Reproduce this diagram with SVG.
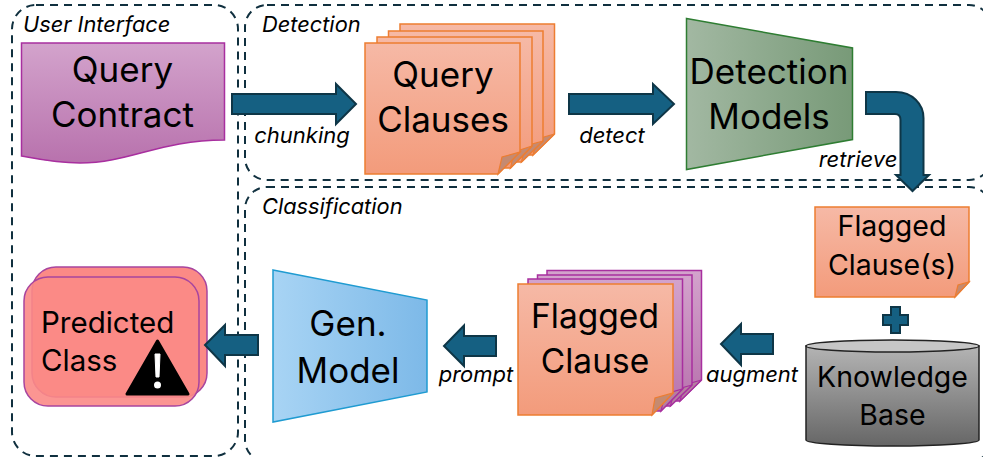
<svg xmlns="http://www.w3.org/2000/svg" width="983" height="457" viewBox="0 0 983 457">
<style>
text{font-family:"Inter","Noto Sans","Liberation Sans",sans-serif;fill:#000;text-anchor:middle}
.n{font-size:35px}
.n2{font-size:33.500px}
.m{font-size:28.500px}
.q{font-size:29.500px;text-anchor:start}
.l{font-size:22px;font-style:italic}
.s{font-size:21.800px;font-style:italic;text-anchor:start}
.c{fill:none;stroke:#10303f;stroke-width:2;stroke-dasharray:8 6}
.a{fill:#156082;stroke:#0e3647;stroke-width:2;stroke-linejoin:miter}
.o{fill:url(#or);stroke:#ed7d31;stroke-width:1.5}
.p{fill:url(#pu);stroke:#a82f9f;stroke-width:1.5}
.f{fill:#c58a70;stroke:#ed7d31;stroke-width:1.2}
.fp{fill:#b57fa0;stroke:#a82f9f;stroke-width:1.2}
.r{fill:#fb8a86;stroke:#a8459f;stroke-width:1.5}
</style>
<defs>
<linearGradient id="or" x1="0" y1="0" x2="0" y2="1"><stop offset="0" stop-color="#f6b9a6"/><stop offset="1" stop-color="#f39b7b"/></linearGradient>
<linearGradient id="pu" x1="0" y1="0" x2="0" y2="1"><stop offset="0" stop-color="#d3a3cc"/><stop offset="1" stop-color="#b872ad"/></linearGradient>
<linearGradient id="gr" x1="0" y1="0" x2="1" y2="0"><stop offset="0" stop-color="#a2b8a2"/><stop offset="1" stop-color="#789a78"/></linearGradient>
<linearGradient id="bl" x1="0" y1="0" x2="1" y2="0"><stop offset="0" stop-color="#a8d4f4"/><stop offset="1" stop-color="#7db9e8"/></linearGradient>
<linearGradient id="gy" x1="0" y1="0" x2="0" y2="1"><stop offset="0" stop-color="#b4b4b4"/><stop offset="1" stop-color="#666"/></linearGradient>
</defs>

<g id="containers">
<g id="user-interface"><rect class="c" x="12" y="5" width="226" height="451" rx="24"/><text class="s" x="23" y="32">User Interface</text></g>
<g id="detection"><rect class="c" x="245" y="5" width="746" height="175" rx="22"/><text class="s" x="262" y="32">Detection</text></g>
<g id="classification"><rect class="c" x="245" y="187" width="746" height="275" rx="22"/><text class="s" x="262" y="214">Classification</text></g>
</g>

<g id="query-contract">
<path d="M21.500 43H224.500V140C160 140 130 163 80 163C55 163 38 159 21.500 156Z" class="p"/>
<text class="n" x="122.500" y="82">Query</text><text class="n" x="122.500" y="127">Contract</text>
</g>

<g id="query-clauses">
<path class="o" d="M400 24H554.500V134L533 155H400Z"/><path class="f" d="M554.500 134L533 155L537 139Z"/>
<path class="o" d="M388.500 31H543V141L521.500 162H388.500Z"/><path class="f" d="M543 141L521.500 162L525 146Z"/>
<path class="o" d="M377 37H532V146L510.500 168H377Z"/><path class="f" d="M532 146L510.500 168L514 152Z"/>
<path class="o" d="M365 43H520V152L498 174H365Z"/><path class="f" d="M520 152L498 174L502 157Z"/>
<text class="n" x="443" y="87">Query</text><text class="n" x="443" y="132">Clauses</text>
</g>

<g id="detection-models">
<path d="M686.500 18.500L852.500 48V139.500L686.500 169.500Z" fill="url(#gr)" stroke="#2e7d32" stroke-width="1.500"/>
<text class="n" x="769" y="84">Detection</text><text class="n" x="769" y="129">Models</text>
</g>

<g id="flagged-clauses-single">
<path class="o" d="M815 207H969V282L955 297H815Z"/><path class="f" d="M969 282L955 297L958 285Z"/>
<text class="m" x="892" y="236">Flagged</text><text class="m" x="892" y="275">Clause(s)</text>
</g>

<g id="knowledge-base">
<path d="M806 346V440A86.500 6 0 0 0 979 440V346Z" fill="url(#gy)" stroke="#222" stroke-width="1.500"/>
<ellipse cx="892.500" cy="346" rx="86.500" ry="6" fill="#c6c6c6" stroke="#222" stroke-width="1.500"/>
<text class="m" x="892.500" y="387">Knowledge</text><text class="m" x="892.500" y="425">Base</text>
</g>

<g id="flagged-clause">
<path class="p" d="M547 270.500H701.500V380L680 401H547Z"/><path class="fp" d="M701.500 380L680 401L684 385Z"/>
<path class="p" d="M537.500 275H692V385L670.500 406H537.500Z"/><path class="fp" d="M692 385L670.500 406L674 390Z"/>
<path class="p" d="M528 279H682.500V389L661 411H528Z"/><path class="fp" d="M682.500 389L661 411L665 394Z"/>
<path class="o" d="M518 284H673V393L652 415H518Z"/><path class="f" d="M673 393L652 415L655 398Z"/>
<text class="n2" x="595" y="328">Flagged</text><text class="n2" x="595" y="373">Clause</text>
</g>

<g id="gen-model">
<path d="M273 270L427 300V392L273 422Z" fill="url(#bl)" stroke="#1f9bd1" stroke-width="1.500"/>
<text class="n" x="348" y="336">Gen.</text><text class="n" x="348" y="383">Model</text>
</g>

<g id="predicted-class">
<rect class="r" x="32" y="267" width="175" height="130" rx="24"/>
<rect class="r" x="24" y="277" width="175" height="129" rx="24" fill-opacity=".9"/>
<text class="q" x="41" y="333">Predicted</text><text class="q" x="41" y="371">Class</text>
<path d="M157.500 341L188 394H127Z" fill="#000" stroke="#000" stroke-width="3" stroke-linejoin="round"/>
<path d="M155 354H160L159 377H156Z" fill="#fff" stroke="#fff" stroke-width="1" stroke-linejoin="round"/>
<circle cx="157.500" cy="385" r="3.500" fill="#fff"/>
</g>

<g id="connectors">
<path class="a" d="M232 94H336V84L356 104L336 124V114H232Z"/>
<path class="a" d="M569 94H653V84L674 104L653 124V114H569Z"/>
<path class="a" d="M866 92H896C912 92 923.500 104 923.500 118V175H929L912.500 191L896 175H900.500V120C900.500 116 898 114 895 114H866Z"/>
<path class="a" d="M883 315H891V307H900V315H908V325H900V333H891V325H883Z"/>
<path class="a" d="M773 334H741V324L721 344L741 365V354H773Z"/>
<path class="a" d="M496 336H464V325.500L444 346L464 366V356H496Z"/>
<path class="a" d="M258 335H225V325L205 345L225 366V355H258Z"/>
</g>

<g id="labels">
<text class="l" x="302" y="143">chunking</text>
<text class="l" x="612" y="143">detect</text>
<text class="l" x="858" y="167">retrieve</text>
<text class="l" x="752" y="382">augment</text>
<text class="l" x="476" y="382">prompt</text>
</g>
</svg>
